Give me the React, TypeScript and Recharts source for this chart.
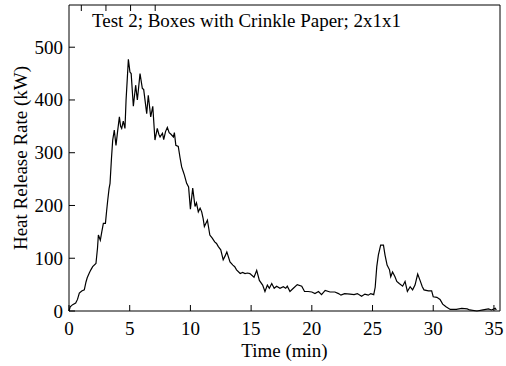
import React from 'react'
import { LineChart, Line, XAxis, YAxis } from 'recharts'

// time in minutes, heat release rate in kW
const timeMin = [
  0, 0.1, 0.3, 0.55, 0.7, 0.85, 1.05, 1.26, 1.4, 1.5, 1.67, 1.8, 1.95, 2.22, 2.35, 2.42, 2.58, 2.7, 2.83, 3.0,
  3.1, 3.19, 3.3, 3.38, 3.5, 3.6, 3.73, 3.87, 4.0, 4.15, 4.25, 4.34, 4.47, 4.61, 4.7, 4.8, 4.89, 5.02, 5.12, 5.3,
  5.49, 5.63, 5.85, 6.04, 6.15, 6.4, 6.53, 6.73, 6.9, 7.08, 7.27, 7.4, 7.5, 7.7, 7.8, 7.95, 8.1, 8.25, 8.4, 8.6,
  8.68, 8.8, 9.0, 9.15, 9.28, 9.4, 9.5, 9.69, 9.85, 10.0, 10.19, 10.38, 10.5, 10.65, 10.8, 10.93, 11.05, 11.15, 11.4, 11.6,
  11.8, 12.0, 12.15, 12.3, 12.5, 12.7, 12.85, 13.0, 13.26, 13.5, 13.65, 13.8, 14.1, 14.3, 14.5, 14.7, 14.9,
  15.24, 15.46, 15.68, 15.95, 16.14, 16.34, 16.5, 16.7, 16.9, 17.1, 17.38, 17.65, 17.85, 17.98, 18.2, 18.48, 18.8, 19.17, 19.4,
  19.7, 20.0, 20.26, 20.55, 20.8, 21.1, 21.5, 21.9, 22.2, 22.4, 22.7, 23.15, 23.48, 23.75, 24.1, 24.37, 24.65, 24.85, 25.1, 25.22,
  25.35, 25.48, 25.67, 25.9, 26.03, 26.2, 26.4, 26.5, 26.65, 26.85, 27.0, 27.2, 27.48, 27.68, 27.87, 28.1, 28.3, 28.5, 28.72, 28.9,
  29.1, 29.24, 29.6, 29.87, 30.0, 30.3, 30.56, 30.78, 31.05, 31.4, 31.9, 32.35, 32.8, 33.0, 33.6, 34.1, 34.55, 34.8, 35.1, 35.2,
]
const hrrKw = [
  0, 8, 12, 15, 22, 34, 38, 40, 55, 63, 72, 78, 84, 90, 120, 144, 134, 150, 166, 166,
  190, 210, 232, 242, 290, 324, 343, 314, 340, 368, 350, 346, 360, 346, 400, 440, 477, 453, 450, 388,
  428, 400, 450, 422, 420, 374, 409, 368, 388, 324, 346, 335, 330, 337, 325, 340, 348, 338, 335, 330,
  338, 314, 312, 290, 273, 265, 258, 242, 235, 193, 233, 198, 205, 188, 195, 188, 175, 160, 172, 144,
  138, 131, 128, 122, 116, 97, 104, 112, 93, 87, 84, 78, 71, 73, 71, 72, 71,
  64, 77, 58, 49, 37, 49, 43, 52, 43, 47, 43, 46, 43, 47, 37, 43, 50, 47, 37,
  37, 36, 33, 37, 31, 39, 36, 36, 33, 30, 33, 32, 31, 33, 28, 32, 30, 33, 31, 45,
  84, 106, 125, 125, 106, 87, 78, 65, 74, 65, 56, 52, 47, 56, 37, 46, 40, 49, 70, 59,
  46, 40, 38, 38, 27, 26, 22, 13, 8, 3, 3, 5, 4, 2, 0, 2, 4, 2, 5, 2,
]

const xTicks = [0, 5, 10, 15, 20, 25, 30, 35]
const yTicks = [0, 100, 200, 300, 400, 500]
const title = 'Test 2; Boxes with Crinkle Paper; 2x1x1'

const data = timeMin.map((t, i) => ({ t, hrr: hrrKw[i] }))

const font = '"Liberation Serif", "Times New Roman", serif'
const fs = 19
const axisStroke = { stroke: '#000', strokeWidth: 1 }
const tickLen = 6

// ticks point inward, so draw line + label ourselves
const BottomTick = (p: any) => (
  <g>
    <line x1={p.x} y1={p.y} x2={p.x} y2={p.y - tickLen} stroke="#000" />
    <text x={p.x} y={p.y + 24} textAnchor="middle" fill="#000" fontSize={fs} fontFamily={font}>
      {p.payload.value}
    </text>
  </g>
)
const TopTick = (p: any) => <line x1={p.x} y1={p.y} x2={p.x} y2={p.y + tickLen} stroke="#000" />
const LeftTick = (p: any) => (
  <g>
    <line x1={p.x} y1={p.y} x2={p.x + tickLen} y2={p.y} stroke="#000" />
    <text x={p.x - 6} y={p.y + 6.5} textAnchor="end" fill="#000" fontSize={fs} fontFamily={font}>
      {p.payload.value}
    </text>
  </g>
)
const RightTick = (p: any) => <line x1={p.x} y1={p.y} x2={p.x - tickLen} y2={p.y} stroke="#000" />

export default function App() {
  return (
    <div style={{ position: 'absolute', left: 0, top: 0, background: '#fff' }}>
      <LineChart width={506} height={366} data={data} margin={{ top: 4, right: 5, bottom: 0, left: 0 }}>
        <XAxis
          xAxisId="bottom"
          dataKey="t"
          type="number"
          domain={[0, 35.5]}
          ticks={xTicks}
          height={55}
          tickSize={0}
          tickMargin={0}
          tick={BottomTick}
          axisLine={axisStroke}
          tickLine={false}
          label={{
            content: (p: any) => (
              <text x={p.viewBox.x + p.viewBox.width / 2} y={357} textAnchor="middle" fill="#000" fontSize={fs} fontFamily={font}>
                Time (min)
              </text>
            ),
          }}
        />
        <XAxis
          xAxisId="top"
          orientation="top"
          type="number"
          domain={[0, 35.5]}
          ticks={xTicks}
          height={1}
          tickSize={0}
          tickMargin={0}
          tick={TopTick}
          axisLine={axisStroke}
          tickLine={false}
          label={{
            content: () => (
              <text x={92} y={27} fill="#000" fontSize={fs} fontFamily={font}>
                {title}
              </text>
            ),
          }}
        />
        <YAxis
          yAxisId="left"
          type="number"
          domain={[0, 580]}
          ticks={yTicks}
          width={69}
          tickSize={0}
          tickMargin={0}
          tick={LeftTick}
          axisLine={axisStroke}
          tickLine={false}
          label={{
            content: (p: any) => {
              const cx = 27
              const cy = p.viewBox.y + p.viewBox.height / 2
              return (
                <text x={cx} y={cy} transform={`rotate(-90 ${cx} ${cy})`} textAnchor="middle" fill="#000" fontSize={fs} fontFamily={font}>
                  Heat Release Rate (kW)
                </text>
              )
            },
          }}
        />
        <YAxis
          yAxisId="right"
          orientation="right"
          type="number"
          domain={[0, 580]}
          ticks={yTicks}
          width={1}
          tickSize={0}
          tickMargin={0}
          tick={RightTick}
          axisLine={axisStroke}
          tickLine={false}
        />
        <Line
          xAxisId="bottom"
          yAxisId="left"
          dataKey="hrr"
          type="linear"
          stroke="#000"
          strokeWidth={1.2}
          dot={false}
          isAnimationActive={false}
        />
      </LineChart>
    </div>
  )
}
